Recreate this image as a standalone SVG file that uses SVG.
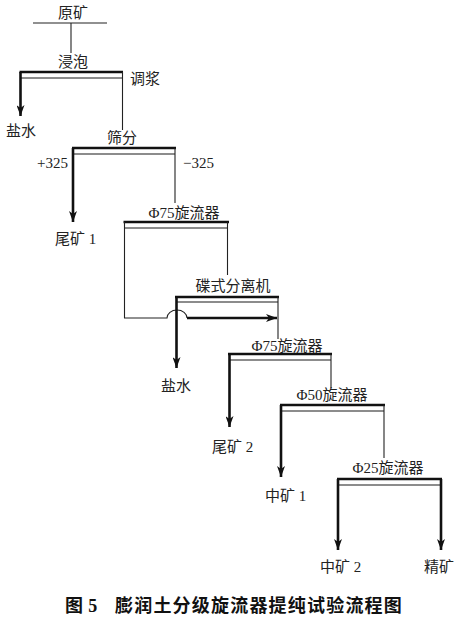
<svg xmlns="http://www.w3.org/2000/svg" width="462" height="620" viewBox="0 0 462 620">
<style>
text{font-family:"Liberation Serif","Noto Sans CJK SC",serif;font-size:15px;fill:#222}
.m{text-anchor:middle}
.top{stroke:#111;stroke-width:2.6;fill:none}
.sub{stroke:#666;stroke-width:1.3;fill:none}
.thin{stroke:#222;stroke-width:1.1;fill:none}
.thick{stroke:#111;stroke-width:2.6;fill:none}
.cap{font-family:"Noto Sans CJK SC",sans-serif;font-weight:bold;font-size:18px;fill:#111;letter-spacing:1.2px}
</style>
<defs>
<marker id="ar" markerUnits="userSpaceOnUse" markerWidth="12" markerHeight="8" refX="11" refY="4" viewBox="0 0 12 8" orient="auto">
<path d="M0,0 L11,4 L0,8 L3,4 z" fill="#111"/>
</marker>
</defs>
<rect width="462" height="620" fill="#fff"/>

<g id="raw">
<text class="m" x="73" y="18">原矿</text>
<line class="thin" x1="33" y1="23" x2="107" y2="23"/>
</g>
<g id="leach">
<text class="m" x="73" y="67">浸泡</text>
<line class="top" x1="19.5" y1="72" x2="123" y2="72"/>
<line class="sub" x1="21" y1="78" x2="122" y2="78"/>
</g>
<g id="slurry"><text x="130" y="84">调浆</text></g>
<g id="salt1"><text x="6" y="136">盐水</text></g>
<g id="screen">
<text class="m" x="122" y="143">筛分</text>
<line class="top" x1="72" y1="148" x2="176" y2="148"/>
<line class="sub" x1="74" y1="154" x2="175" y2="154"/>
</g>
<g id="plus325"><text x="37" y="168">+325</text></g>
<g id="minus325"><text x="183" y="168">−325</text></g>
<g id="tail1"><text x="55" y="244">尾矿 1</text></g>
<g id="cyc75a">
<text class="m" x="184" y="218">Φ75旋流器</text>
<line class="top" x1="123.5" y1="222" x2="229" y2="222"/>
<line class="sub" x1="124" y1="228" x2="228" y2="228"/>
</g>
<g id="disc">
<text class="m" x="233" y="291">碟式分离机</text>
<line class="top" x1="175" y1="297" x2="279" y2="297"/>
<line class="sub" x1="177" y1="302" x2="278" y2="302"/>
</g>
<g id="salt2"><text class="m" x="176" y="391">盐水</text></g>
<g id="cyc75b">
<text class="m" x="287" y="351">Φ75旋流器</text>
<line class="top" x1="228" y1="354" x2="332" y2="354"/>
<line class="sub" x1="230" y1="360" x2="331" y2="360"/>
</g>
<g id="tail2"><text x="212" y="452">尾矿 2</text></g>
<g id="cyc50">
<text class="m" x="332" y="400">Φ50旋流器</text>
<line class="top" x1="280" y1="405" x2="385" y2="405"/>
<line class="sub" x1="282" y1="411" x2="384" y2="411"/>
</g>
<g id="mid1"><text x="265" y="501">中矿 1</text></g>
<g id="cyc25">
<text class="m" x="388" y="473">Φ25旋流器</text>
<line class="top" x1="337" y1="479" x2="442" y2="479"/>
<line class="sub" x1="339" y1="485" x2="441" y2="485"/>
</g>
<g id="mid2"><text x="320" y="572">中矿 2</text></g>
<g id="conc"><text class="m" x="439" y="572">精矿</text></g>

<g id="connectors">
<line class="thin" x1="71" y1="23" x2="71" y2="53"/>
<line class="thick" x1="20.5" y1="72" x2="20.5" y2="116" marker-end="url(#ar)"/>
<line class="thin" x1="122.5" y1="72" x2="122.5" y2="130"/>
<line class="thick" x1="73" y1="148" x2="73" y2="222" marker-end="url(#ar)"/>
<line class="thin" x1="175" y1="148" x2="175" y2="203"/>
<line class="thin" x1="227.5" y1="222" x2="227.5" y2="275"/>
<path class="thin" d="M124.5,222 V318 H167 A10,8 0 0 1 187,318"/>
<line class="thick" x1="187" y1="318" x2="277" y2="318" marker-end="url(#ar)"/>
<line class="thick" x1="176.5" y1="297" x2="176.5" y2="368" marker-end="url(#ar)"/>
<line class="thin" x1="278" y1="297" x2="278" y2="339"/>
<line class="thick" x1="229.5" y1="354" x2="229.5" y2="427" marker-end="url(#ar)"/>
<line class="thin" x1="331" y1="354" x2="331" y2="388"/>
<line class="thick" x1="281" y1="405" x2="281" y2="477" marker-end="url(#ar)"/>
<line class="thin" x1="384" y1="405" x2="384" y2="458"/>
<line class="thick" x1="338" y1="479" x2="338" y2="550" marker-end="url(#ar)"/>
<line class="thick" x1="441" y1="479" x2="441" y2="550" marker-end="url(#ar)"/>
</g>

<g id="caption">
<text class="cap" x="65" y="612">图<tspan font-family="Liberation Serif" dx="4">5</tspan></text>
<text class="cap" x="115" y="612">膨润土分级旋流器提纯试验流程图</text>
</g>
</svg>
